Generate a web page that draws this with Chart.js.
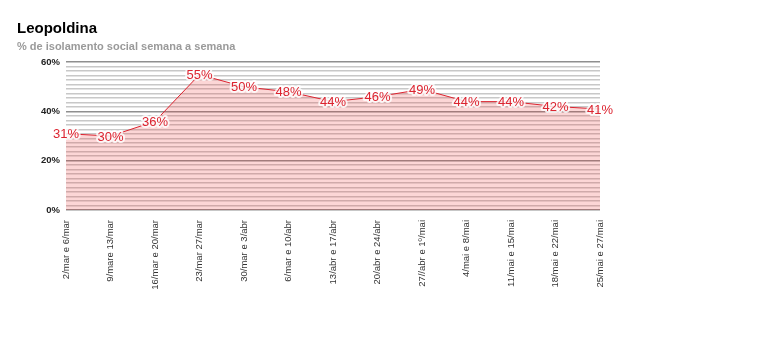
<!DOCTYPE html>
<html>
<head>
<meta charset="utf-8">
<script src="https://cdn.jsdelivr.net/npm/chart.js@4"></script>
<style>
  html, body { margin: 0; padding: 0; background: #fff; }
  #wrap { width: 780px; height: 344px; }
</style>
</head>
<body>
<div id="wrap"><canvas id="chart" width="780" height="344"></canvas></div>
<script>
// weekly periods and social isolation share (%)
const semanas = [
    '2/mar e 6/mar', '9/mare 13/mar', '16/mar e 20/mar', '23/mar 27/mar',
    '30/mar e 3/abr', '6/mar e 10/abr', '13/abr e 17/abr', '20/abr e 24/abr',
    '27//abr e 1º/mai', '4/mai e 8/mai', '11/mai e 15/mai', '18/mai e 22/mai',
    '25/mai e 27/mai'
];
const isolamento = [31, 30, 36, 55, 50, 48, 44, 46, 49, 44, 44, 42, 41];
const yMajorTicks = [0, 20, 40, 60];
const minorPerMajor = 10;

const RED = '#dc2430';
const FONT = 'Arial, "Liberation Sans", sans-serif';

// value labels centred on each point, with a white halo over the line
const valueLabels = {
    id: 'valueLabels',
    afterDatasetsDraw(chart) {
        const ctx = chart.ctx;
        const meta = chart.getDatasetMeta(0);
        ctx.save();
        ctx.font = '13px ' + FONT;
        ctx.textAlign = 'center';
        ctx.textBaseline = 'middle';
        ctx.lineJoin = 'round';
        meta.data.forEach((pt, i) => {
            const txt = isolamento[i] + '%';
            ctx.lineWidth = 4;
            ctx.strokeStyle = 'rgba(255,255,255,0.8)';
            ctx.strokeText(txt, pt.x, pt.y + 1);
            ctx.fillStyle = RED;
            ctx.fillText(txt, pt.x, pt.y + 1);
        });
        ctx.restore();
    }
};

new Chart(document.getElementById('chart'), {
    type: 'line',
    data: {
        labels: semanas,
        datasets: [{
            data: isolamento,
            borderColor: RED,
            borderWidth: 1,
            backgroundColor: 'rgba(240,50,50,0.2)',
            fill: 'origin',
            tension: 0,
            pointRadius: 0
        }]
    },
    plugins: [valueLabels],
    options: {
        responsive: false,
        animation: false,
        layout: { padding: { left: 17, right: 180, top: 0, bottom: 0 } },
        plugins: {
            legend: { display: false },
            tooltip: { enabled: false },
            title: {
                display: true,
                text: 'Leopoldina',
                align: 'start',
                color: '#000',
                font: { family: FONT, size: 15, weight: 'bold' },
                padding: { top: 20, bottom: 0 }
            },
            subtitle: {
                display: true,
                text: '% de isolamento social semana a semana',
                align: 'start',
                color: '#9a9a9a',
                font: { family: FONT, size: 11, weight: 'bold' },
                padding: { top: 2, bottom: 9 }
            }
        },
        scales: {
            x: {
                offset: false,
                grid: { display: false },
                border: { display: false },
                ticks: {
                    autoSkip: false,
                    minRotation: 90,
                    maxRotation: 90,
                    padding: 2,
                    color: '#333',
                    font: { family: FONT, size: 9.5 }
                },
                afterFit: s => { s.height = 134; }
            },
            y: {
                min: 0,
                max: 60,
                border: { display: false },
                afterBuildTicks: s => {
                    const ticks = [];
                    for (let m = 0; m < yMajorTicks.length - 1; m++) {
                        const a = yMajorTicks[m], b = yMajorTicks[m + 1];
                        for (let k = 0; k <= minorPerMajor; k++) {
                            ticks.push({ value: a + (b - a) * k / (minorPerMajor + 1) });
                        }
                    }
                    ticks.push({ value: yMajorTicks[yMajorTicks.length - 1] });
                    s.ticks = ticks;
                },
                grid: {
                    drawTicks: false,
                    color: c => (c.index % (minorPerMajor + 1) === 0 ? '#8f8f8f' : '#c8c8c8'),
                    lineWidth: 1.6
                },
                ticks: {
                    autoSkip: false,
                    padding: 6,
                    color: '#222',
                    font: { family: FONT, size: 9.5, weight: 'bold' },
                    callback: (v, i) => (i % (minorPerMajor + 1) === 0 ? Math.round(v) + '%' : '')
                },
                afterFit: s => { s.width = 49; }
            }
        }
    }
});
</script>
</body>
</html>
